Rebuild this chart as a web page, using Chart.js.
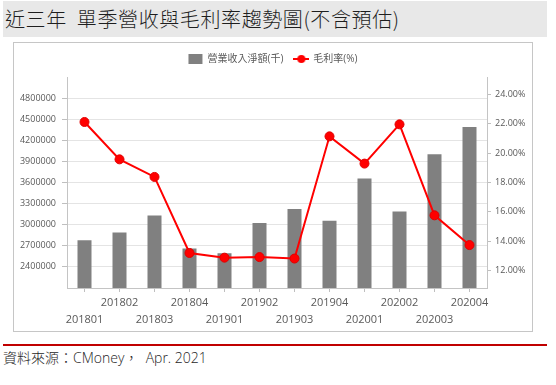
<!DOCTYPE html>
<html><head><meta charset="utf-8">
<script src="https://cdn.jsdelivr.net/npm/chart.js@4.4.1/dist/chart.umd.min.js"></script>
<style>
html,body{margin:0;padding:0;background:#fff;}
body{width:556px;height:385px;position:relative;overflow:hidden;font-family:"Open Sans","Noto Sans CJK TC",sans-serif;}
#title{position:absolute;left:3px;top:1px;width:544px;height:36px;background:#e8e8e8;font-family:"Noto Sans CJK TC",sans-serif;font-weight:300;font-size:20px;letter-spacing:0.6px;line-height:36px;color:#1e1e1e;padding-left:2px;box-sizing:border-box;white-space:pre;}
#box{position:absolute;left:13px;top:42px;width:520px;height:290px;border:1px solid #c6c6c6;box-sizing:border-box;background:#fff;}
#rule{position:absolute;left:3px;top:344px;width:544px;height:2px;background:#c00000;}
#src{position:absolute;left:3px;top:347px;font-size:14px;font-weight:300;line-height:22px;color:#1e1e1e;white-space:pre;}
canvas{display:block;}
</style></head>
<body>
<div id="title">近三年  單季營收與毛利率趨勢圖(不含預估)</div>
<div id="box"><canvas id="c" width="518" height="288"></canvas></div>
<div id="rule"></div>
<div id="src">資料來源：CMoney，  Apr. 2021</div>
<script>
const categories = ['201801','201802','201803','201804','201901','201902','201903','201904','202001','202002','202003','202004'];
const revenue = [2780000, 2890000, 3130000, 2660000, 2595000, 3023000, 3223000, 3057000, 3657000, 3186000, 4000000, 4390000];
const grossMargin = [22.13, 19.58, 18.38, 13.19, 12.87, 12.91, 12.81, 21.15, 19.29, 21.97, 15.76, 13.73];
const revenueTicks = [2400000, 2700000, 3000000, 3300000, 3600000, 3900000, 4200000, 4500000, 4800000];
const marginTicks = [12, 14, 16, 18, 20, 22, 24];
const seriesNames = ['營業收入淨額(千)', '毛利率(%)'];

const FONT = '"Open Sans","Noto Sans CJK TC",sans-serif';
const LABEL = '#595959';
const BAR = '#808080';
const RED = '#ff0000';

// legend marker: line with dot
const mk = document.createElement('canvas');
mk.width = 16; mk.height = 10;
(function(){const g = mk.getContext('2d');
 g.strokeStyle = RED; g.lineWidth = 2; g.beginPath(); g.moveTo(0,5); g.lineTo(16,5); g.stroke();
 g.fillStyle = RED; g.beginPath(); g.arc(8,5,4,0,Math.PI*2); g.fill();})();

const Y_MIN = 2100000, Y_MAX = 5100000, Y1_MIN = 10.8, Y1_MAX = 25.2;

new Chart(document.getElementById('c'), {
  type: 'bar',
  data: {
    labels: categories,
    datasets: [
      { type: 'line', label: seriesNames[1], data: grossMargin, yAxisID: 'y1', order: 0,
        borderColor: RED, backgroundColor: RED, borderWidth: 2, pointRadius: 4.5,
        pointBackgroundColor: RED, pointBorderColor: '#e00000', pointBorderWidth: 1, tension: 0 },
      { type: 'bar', label: seriesNames[0], data: revenue, yAxisID: 'y', order: 1,
        backgroundColor: BAR, borderWidth: 0, categoryPercentage: 1, barPercentage: 0.4 }
    ]
  },
  options: {
    responsive: false, animation: false,
    layout: { padding: 0 },
    plugins: {
      tooltip: { enabled: false },
      title: { display: true, text: '', weight: 500, padding: 0, font: { size: 3, lineHeight: 1 } },
      legend: {
        position: 'top',
        labels: {
          usePointStyle: true, pointStyleWidth: 14, padding: 11,
          font: { family: FONT, size: 10 }, color: LABEL,
          generateLabels: () => [
            { text: seriesNames[0], pointStyle: 'rect', fillStyle: BAR, strokeStyle: BAR, lineWidth: 0, fontColor: LABEL, datasetIndex: 1, hidden: false },
            { text: seriesNames[1], pointStyle: mk, fillStyle: RED, strokeStyle: RED, lineWidth: 0, fontColor: LABEL, datasetIndex: 0, hidden: false }
          ]
        }
      }
    },
    scales: {
      x: {
        offset: true,
        grid: { offset: false, drawOnChartArea: false, drawTicks: true, tickLength: 4, tickColor: '#bfbfbf' },
        border: { display: true, color: '#c4c4c4' },
        ticks: {
          autoSkip: false, maxRotation: 0, minRotation: 0, padding: 3, color: LABEL,
          font: { family: FONT, size: 11, lineHeight: 1.5 },
          callback: (v, i) => i % 2 === 0 ? ['', categories[i]] : [categories[i], '']
        },
        afterFit: s => { s.height = 43; }
      },
      y: {
        position: 'left', min: Y_MIN, max: Y_MAX,
        afterBuildTicks: s => { s.ticks = [Y_MIN, ...revenueTicks, Y_MAX].map(v => ({ value: v })); },
        grid: {
          color: c => c.tick && c.tick.value === Y_MAX ? '#c4c4c4' : '#e4e4e4',
          tickColor: c => c.tick && (c.tick.value === Y_MAX || c.tick.value === Y_MIN) ? 'rgba(0,0,0,0)' : '#bfbfbf',
          tickLength: 5
        },
        border: { display: true, color: '#c4c4c4' },
        ticks: {
          padding: 6, color: LABEL, font: { family: FONT, size: 9 },
          callback: v => revenueTicks.includes(v) ? String(v) : null
        },
        afterFit: s => { s.width = 53; }
      },
      y1: {
        position: 'right', min: Y1_MIN, max: Y1_MAX,
        afterBuildTicks: s => { s.ticks = marginTicks.map(v => ({ value: v })); },
        grid: { drawOnChartArea: false, tickLength: 4, tickColor: '#bfbfbf' },
        border: { display: true, color: '#c4c4c4' },
        ticks: {
          padding: 4, color: LABEL, font: { family: FONT, size: 9 },
          callback: v => v.toFixed(2) + '%'
        },
        afterFit: s => { s.width = 45; }
      }
    }
  }
});
</script>
</body></html>
